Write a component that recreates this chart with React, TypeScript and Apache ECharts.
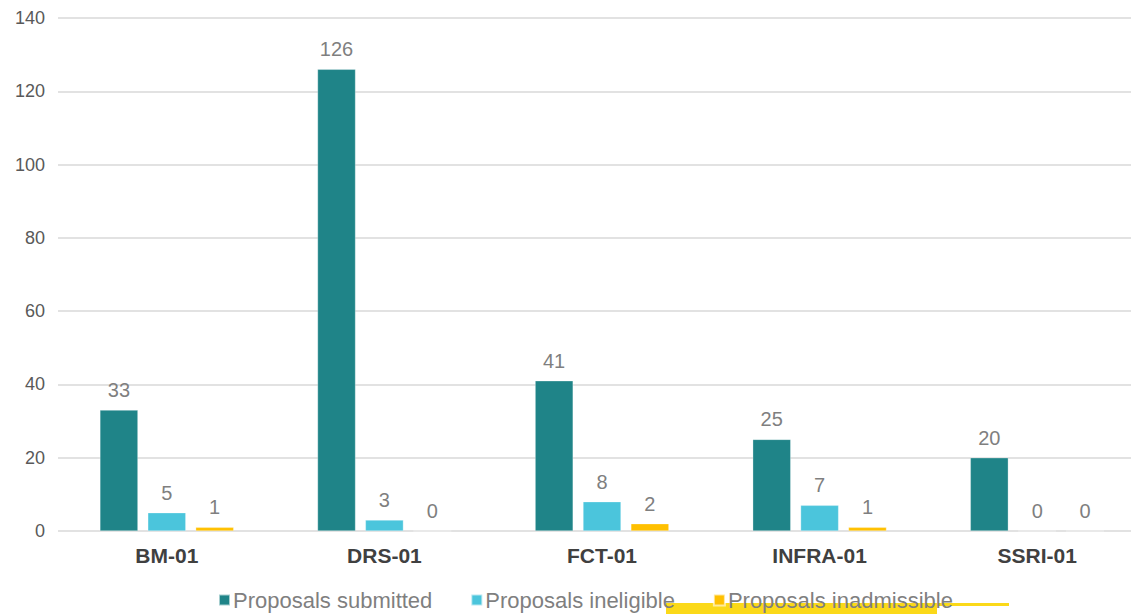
import React, { useEffect, useRef } from "react";
import * as echarts from "echarts";

const categories = ["BM-01", "DRS-01", "FCT-01", "INFRA-01", "SSRI-01"];
const submitted = [33, 126, 41, 25, 20];
const ineligible = [5, 3, 8, 7, 0];
const inadmissible = [1, 0, 2, 1, 0];
const seriesNames = ["Proposals submitted", "Proposals ineligible", "Proposals inadmissible"];
const colors = ["#1f8488", "#4bc5dc", "#ffc000"];

export default function App() {
  const ref = useRef<HTMLDivElement>(null);
  useEffect(() => {
    if (!ref.current) return;
    const chart = echarts.init(ref.current, null, { renderer: "svg" });
    const font = "'Liberation Sans', Arial, sans-serif";
    const mk = (name: string, data: number[], color: string) => ({
      name,
      type: "bar",
      data,
      barWidth: 38,
      barGap: "26%",
      itemStyle: { color, borderColor: "rgba(255,255,255,0.6)", borderWidth: 0.5 },
      label: {
        show: true,
        position: "top",
        distance: 10,
        color: "#7f7f7f",
        fontSize: 20,
        fontFamily: font,
      },
    });
    chart.setOption({
      animation: false,
      backgroundColor: "#ffffff",
      textStyle: { fontFamily: font },
      grid: {
        left: 58,
        top: 18,
        width: 1088,
        height: 513,
        containLabel: false,
        outerBoundsMode: "none",
      },
      legend: {
        top: 589,
        left: 218,
        padding: 0,
        itemWidth: 11,
        itemHeight: 11,
        itemGap: 38,
        icon: "rect",
        z: 10,
        textStyle: { color: "#7f7f7f", fontSize: 22, fontFamily: font, padding: [0, 0, 0, -2] },
        data: seriesNames,
      },
      xAxis: {
        type: "category",
        data: categories,
        axisLine: { show: false },
        axisTick: { show: false },
        axisLabel: {
          color: "#404040",
          fontSize: 21,
          fontWeight: "bold",
          margin: 14,
          fontFamily: font,
        },
      },
      yAxis: {
        type: "value",
        min: 0,
        max: 140,
        interval: 20,
        axisLine: { show: false },
        axisTick: { show: false },
        axisLabel: { color: "#595959", fontSize: 18, margin: 13, fontFamily: font },
        splitLine: { lineStyle: { color: "#d9d9d9", width: 1.5 } },
      },
      graphic: [
        { type: "rect", z: 1, shape: { x: 666, y: 603, width: 271, height: 11 }, style: { fill: "#fbd919" } },
        { type: "rect", z: 1, shape: { x: 937, y: 603, width: 72, height: 3 }, style: { fill: "#fbd919" } },
      ],
      series: [
        mk(seriesNames[0], submitted, colors[0]),
        mk(seriesNames[1], ineligible, colors[1]),
        mk(seriesNames[2], inadmissible, colors[2]),
      ],
    });
    return () => chart.dispose();
  }, []);
  return (
    <div
      ref={ref}
      style={{ position: "fixed", left: 0, top: 0, width: 1131, height: 614, background: "#fff" }}
    />
  );
}
